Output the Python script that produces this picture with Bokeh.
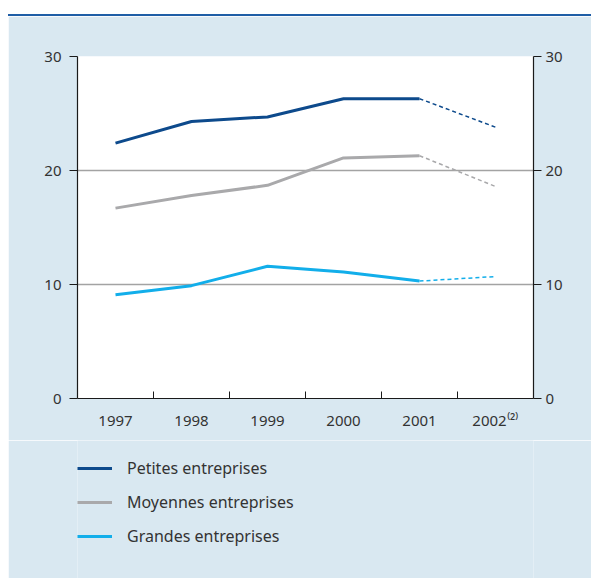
import numpy as np
from bokeh.plotting import figure
from bokeh.models import (LinearAxis, FixedTicker, Legend, LegendItem, Div, Range1d)
from bokeh.layouts import column
from bokeh.embed import file_html
from bokeh.resources import INLINE

years = ["1997", "1998", "1999", "2000", "2001", "2002"]
year_labels = ["1997", "1998", "1999", "2000", "2001", "2002\u207d\u00b2\u207e"]
petites = [22.4, 24.3, 24.7, 26.3, 26.3, 23.8]
moyennes = [16.7, 17.8, 18.7, 21.1, 21.3, 18.6]
grandes = [9.1, 9.9, 11.6, 11.1, 10.3, 10.7]
series_names = ["Petites entreprises", "Moyennes entreprises", "Grandes entreprises"]
colors = ["#0d4a8c", "#a9a9ab", "#12aeea"]
y_ticks = [0, 10, 20, 30]

BG = "#d9e8f1"
FONT = "Noto Sans"

x = np.arange(len(years)) + 0.5
all_series = [petites, moyennes, grandes]

p = figure(width=583, height=424, output_backend="svg", toolbar_location=None,
           x_range=Range1d(0, len(years)), y_range=Range1d(0, 30),
           min_border_left=69, min_border_right=58, min_border_top=40, min_border_bottom=42,
           margin=(0, 0, 0, 8))
p.background_fill_color = "white"
p.border_fill_color = BG
p.outline_line_color = None

p.xgrid.visible = False
p.ygrid.ticker = FixedTicker(ticks=[10, 20, 30])
p.ygrid.grid_line_color = "#a3a3a3"
p.ygrid.grid_line_width = 1.5

def style_y(ax, standoff):
    ax.ticker = FixedTicker(ticks=y_ticks)
    ax.axis_line_color = "#1a1a1a"
    ax.axis_line_width = 1.2
    ax.major_tick_line_color = "#1a1a1a"
    ax.major_tick_out = 8
    ax.major_tick_in = 0
    ax.minor_tick_line_color = None
    ax.major_label_text_font = FONT
    ax.major_label_text_font_size = "15px"
    ax.major_label_text_color = "#333333"
    ax.major_label_standoff = standoff

style_y(p.yaxis[0], 8)
ry = LinearAxis()
style_y(ry, 4)
p.add_layout(ry, "right")

xa = p.xaxis[0]
xa.ticker = FixedTicker(ticks=list(x), minor_ticks=list(range(1, len(years))))
xa.major_label_overrides = {float(v): yr for v, yr in zip(x, year_labels)}
xa.major_tick_line_color = None
xa.minor_tick_line_color = "#1a1a1a"
xa.minor_tick_in = 7
xa.minor_tick_out = 0
xa.axis_line_color = "#1a1a1a"
xa.axis_line_width = 1.2
xa.major_label_text_font = FONT
xa.major_label_text_font_size = "15px"
xa.major_label_text_color = "#333333"
xa.major_label_standoff = 5

for name, vals, c in zip(series_names, all_series, colors):
    p.line(x[:5], vals[:5], line_color=c, line_width=3)
    p.line(x[4:], vals[4:], line_color=c, line_width=1.5, line_dash="4 3")

# legend panel (its ranges keep the series out of view; only the legend shows)
lf = figure(width=583, height=138, output_backend="svg", toolbar_location=None,
            x_range=Range1d(100, 101), y_range=Range1d(100, 101),
            min_border=0, margin=(0, 0, 0, 8))
lf.axis.visible = False
lf.grid.visible = False
lf.outline_line_color = None
lf.background_fill_color = BG
lf.border_fill_color = BG
items = []
for name, vals, c in zip(series_names, all_series, colors):
    r = lf.line(x[:5], vals[:5], line_color=c, line_width=3)
    items.append(LegendItem(label=name, renderers=[r]))
leg = Legend(items=items, location=(0, 31), orientation="vertical",
             background_fill_alpha=0, border_line_color=None,
             label_text_font=FONT, label_text_font_size="16px", label_text_color="#333333",
             glyph_width=35, glyph_height=20, label_standoff=15, spacing=12,
             padding=0, margin=0, label_height=20)
lf.add_layout(leg, "center")

top = Div(text="", width=583, height=2, margin=(14, 0, 0, 8),
          styles={"background-color": "#1f5ea6"})

layout = column(top, p, lf, spacing=0)
open("out.html", "w").write(file_html(layout, INLINE))
